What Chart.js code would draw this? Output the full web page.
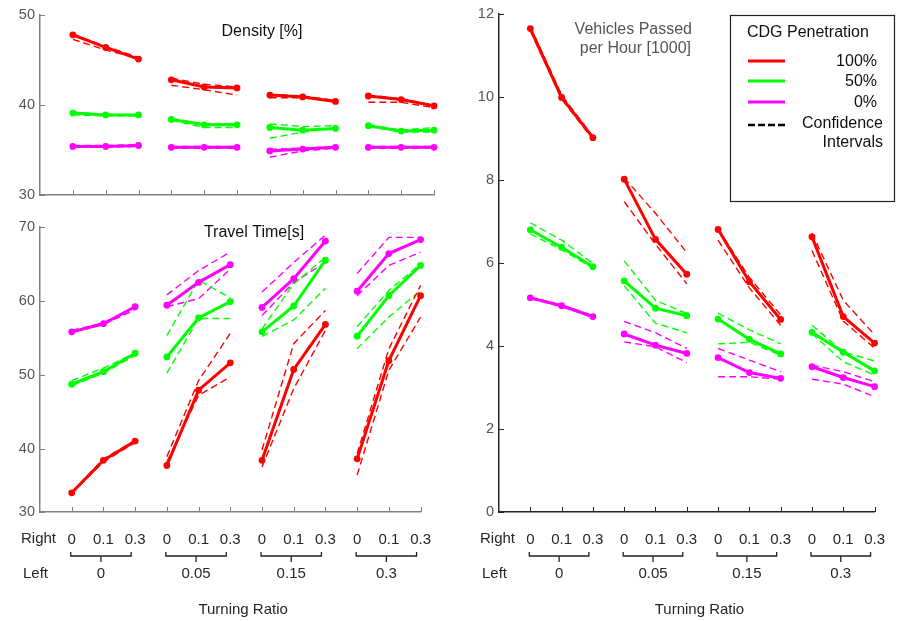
<!DOCTYPE html>
<html>
<head>
<meta charset="utf-8">
<script src="https://cdn.jsdelivr.net/npm/chart.js@4"></script>
<style>
  body { margin: 0; background: #fff; }
  canvas { position: absolute; }
</style>
</head>
<body>
<canvas id="density-chart" width="450" height="215" style="left:0;top:0"></canvas>
<canvas id="travel-chart" width="450" height="411" style="left:0;top:210px"></canvas>
<canvas id="vehicles-chart" width="454" height="621" style="left:450px;top:0"></canvas>
<script>
// categories
const rightRatios = ["0", "0.1", "0.3"];
const leftRatios = ["0", "0.05", "0.15", "0.3"];
const penetration = ["100%", "50%", "0%"];

// density [%]
const density100 = [47.8, 46.4, 45.1, 42.8, 42.0, 41.9, 41.1, 40.9, 40.4, 41.0, 40.6, 39.9];
const density100Hi = [47.9, 46.5, 45.3, 43.0, 42.3, 42.0, 41.2, 41.0, 40.5, 41.1, 40.7, 40.0];
const density100Lo = [47.3, 46.1, 45.2, 42.2, 41.7, 41.1, 40.8, 40.8, 40.4, 40.3, 40.3, 39.7];
const density50 = [39.1, 38.9, 38.9, 38.4, 37.8, 37.8, 37.5, 37.2, 37.4, 37.7, 37.1, 37.2];
const density50Hi = [39.2, 38.95, 38.9, 38.5, 37.9, 37.9, 37.9, 37.6, 37.7, 37.8, 37.2, 37.5];
const density50Lo = [38.9, 38.8, 38.8, 38.3, 37.5, 37.5, 36.3, 37.0, 37.4, 37.6, 37.0, 37.0];
const density0 = [35.4, 35.4, 35.5, 35.3, 35.3, 35.3, 34.9, 35.1, 35.3, 35.3, 35.3, 35.3];
const density0Hi = [35.5, 35.5, 35.6, 35.4, 35.4, 35.4, 35.1, 35.2, 35.4, 35.4, 35.4, 35.4];
const density0Lo = [35.3, 35.3, 35.4, 35.2, 35.2, 35.2, 34.2, 34.9, 35.2, 35.2, 35.2, 35.2];

// travel time [s]
const travel100 = [34.0, 38.4, 41.0, 37.7, 47.9, 51.6, 38.4, 50.7, 56.8, 38.6, 51.9, 60.7];
const travel100Hi = [34.1, 38.6, 41.1, 38.9, 49.2, 55.6, 39.8, 54.2, 58.7, 39.3, 53.5, 62.1];
const travel100Lo = [33.9, 38.2, 40.8, 38.2, 47.2, 49.7, 37.5, 48.1, 56.0, 36.4, 50.6, 57.8];
const travel50 = [48.7, 50.4, 52.9, 52.4, 57.7, 59.9, 55.8, 59.3, 65.5, 55.2, 60.7, 64.8];
const travel50Hi = [49.2, 50.9, 52.9, 55.3, 62.8, 60.4, 56.2, 62.3, 65.9, 56.5, 61.4, 65.0];
const travel50Lo = [48.5, 50.2, 52.6, 50.2, 57.6, 57.6, 55.2, 57.4, 61.7, 53.5, 57.8, 61.4];
const travel0 = [55.8, 56.9, 59.2, 59.4, 62.5, 64.9, 59.1, 63.0, 68.1, 61.3, 66.4, 68.3];
const travel0Hi = [56.0, 57.0, 59.3, 60.8, 64.1, 66.6, 61.2, 65.2, 68.9, 63.7, 68.6, 68.6];
const travel0Lo = [55.7, 56.8, 58.8, 59.2, 60.3, 64.3, 58.0, 62.5, 65.2, 60.7, 64.8, 66.6];

// vehicles passed per hour [1000]
const vehicles100 = [11.65, 9.99, 9.02, 8.02, 6.57, 5.73, 6.81, 5.55, 4.64, 6.63, 4.71, 4.07];
const vehicles100Hi = [11.7, 10.05, 9.05, 8.05, 7.2, 6.25, 6.82, 5.65, 4.75, 6.72, 5.1, 4.27];
const vehicles100Lo = [11.6, 9.95, 8.98, 7.48, 6.45, 5.5, 6.55, 5.4, 4.5, 6.3, 4.6, 3.95];
const vehicles50 = [6.80, 6.38, 5.91, 5.57, 4.91, 4.73, 4.65, 4.16, 3.81, 4.33, 3.85, 3.40];
const vehicles50Hi = [6.97, 6.55, 5.99, 6.05, 5.1, 4.78, 4.79, 4.39, 4.05, 4.5, 3.86, 3.64];
const vehicles50Lo = [6.7, 6.32, 5.88, 5.45, 4.55, 4.32, 4.05, 4.09, 3.78, 4.3, 3.62, 3.30];
const vehicles0 = [5.16, 4.97, 4.71, 4.29, 4.02, 3.82, 3.72, 3.36, 3.22, 3.50, 3.24, 3.02];
const vehicles0Hi = [5.18, 4.99, 4.73, 4.59, 4.32, 3.94, 3.94, 3.66, 3.38, 3.54, 3.38, 3.14];
const vehicles0Lo = [5.14, 4.95, 4.69, 4.10, 3.98, 3.60, 3.26, 3.26, 3.20, 3.20, 3.08, 2.78];

const colors = ["#ff0000", "#00ff00", "#ff00ff"];
const FONT = '"Liberation Sans", Arial, sans-serif';
Chart.defaults.font.family = FONT;

// one point per x position, a null between the Left-ratio groups breaks the line
function toPoints(values) {
    const pts = [];
    values.forEach((v, i) => {
        pts.push({ x: i + 1, y: v });
        if (i % 3 === 2 && i < values.length - 1) pts.push({ x: i + 1.5, y: null });
    });
    return pts;
}

function makeDatasets(series) {
    const solid = [];
    const dashed = [];
    series.forEach((s, k) => {
        solid.push({
            label: penetration[k],
            data: toPoints(s.mean),
            borderColor: colors[k],
            backgroundColor: colors[k],
            borderWidth: 3,
            pointRadius: 3.4,
            pointBorderWidth: 0,
            clip: false,
        });
        [s.hi, s.lo].forEach((ci) => {
            dashed.push({
                label: penetration[k] + " CI",
                data: toPoints(ci),
                borderColor: colors[k],
                borderWidth: 1.4,
                borderDash: [7, 4],
                pointRadius: 0,
                clip: false,
            });
        });
    });
    return solid.concat(dashed);
}

function txt(ctx, text, x, y, size, color, align) {
    ctx.font = size + "px " + FONT;
    ctx.fillStyle = color;
    ctx.textAlign = align || "center";
    ctx.textBaseline = "middle";
    ctx.fillText(text, x, y);
}

// ticks inside the axes, titles, the Right/Left labels and the legend
const figureText = {
    id: "figureText",
    afterDraw(chart, args, opts) {
        const ctx = chart.ctx;
        const xs = chart.scales.x;
        const ys = chart.scales.y;
        ctx.save();
        ctx.strokeStyle = opts.axisColor;
        ctx.lineWidth = 1;
        ctx.beginPath();
        for (let i = 1; i <= 12; i++) {
            const px = Math.round(xs.getPixelForValue(i)) + 0.5;
            ctx.moveTo(px, ys.bottom);
            ctx.lineTo(px, ys.bottom - 5);
        }
        ys.ticks.forEach((t) => {
            const py = Math.round(ys.getPixelForValue(t.value)) + 0.5;
            ctx.moveTo(xs.left, py);
            ctx.lineTo(xs.left + 5, py);
        });
        ctx.stroke();

        (opts.titles || []).forEach((t) => txt(ctx, t.text, t.x, t.y, 16, t.color, t.align));

        if (opts.bottom) {
            const base = xs.top;
            const left = xs.left;
            txt(ctx, "Right", left - 19, base + 27, 15, "#262626", "left");
            txt(ctx, "Left", left - 17, base + 62, 15, "#262626", "left");
            ctx.strokeStyle = "#222";
            ctx.lineWidth = 1.3;
            leftRatios.forEach((lab, g) => {
                const x1 = xs.getPixelForValue(g * 3 + 1) - 1;
                const x2 = xs.getPixelForValue(g * 3 + 3) - 4;
                const yb = base + 44;
                const mid = (x1 + x2) / 2;
                ctx.beginPath();
                ctx.moveTo(x1, yb - 4);
                ctx.lineTo(x1, yb);
                ctx.lineTo(x2, yb);
                ctx.lineTo(x2, yb - 4);
                ctx.moveTo(mid, yb);
                ctx.lineTo(mid, yb + 6);
                ctx.stroke();
                txt(ctx, lab, mid, base + 62, 15, "#262626");
            });
            const cx = (xs.getPixelForValue(1) + xs.getPixelForValue(12)) / 2 - 3;
            txt(ctx, "Turning Ratio", cx, base + 98, 15, "#262626");
        }

        if (opts.legend) {
            const L = opts.legend;
            ctx.strokeStyle = "#222";
            ctx.lineWidth = 1.2;
            ctx.strokeRect(L.x + 0.5, L.y + 0.5, 164, 186);
            txt(ctx, "CDG Penetration", L.x + 17, L.y + 18, 16, "#111", "left");
            const rows = [L.y + 46, L.y + 66, L.y + 87];
            penetration.forEach((p, k) => {
                ctx.strokeStyle = colors[k];
                ctx.lineWidth = 3;
                ctx.setLineDash([]);
                ctx.beginPath();
                ctx.moveTo(L.x + 18, rows[k]);
                ctx.lineTo(L.x + 55, rows[k]);
                ctx.stroke();
                txt(ctx, p, L.x + 147, rows[k] + 1, 16, "#111", "right");
            });
            ctx.strokeStyle = "#000";
            ctx.lineWidth = 2.5;
            ctx.setLineDash([7, 3]);
            ctx.beginPath();
            ctx.moveTo(L.x + 18, L.y + 110);
            ctx.lineTo(L.x + 55, L.y + 110);
            ctx.stroke();
            ctx.setLineDash([]);
            txt(ctx, "Confidence", L.x + 153, L.y + 109, 16, "#111", "right");
            txt(ctx, "Intervals", L.x + 153, L.y + 128, 16, "#111", "right");
        }
        ctx.restore();
    },
};

function makeChart(id, datasets, cfg) {
    return new Chart(document.getElementById(id), {
        type: "line",
        data: { datasets: datasets },
        options: {
            responsive: false,
            animation: false,
            devicePixelRatio: 1,
            layout: { padding: cfg.padding },
            plugins: {
                legend: { display: false },
                tooltip: { enabled: false },
                figureText: cfg.text,
            },
            scales: {
                x: {
                    type: "linear",
                    min: 0,
                    max: 12,
                    grid: { display: false, drawTicks: false, tickLength: 0 },
                    border: { color: cfg.axisColor, width: 1.5 },
                    ticks: {
                        display: cfg.xLabels,
                        stepSize: 1,
                        autoSkip: false,
                        maxRotation: 0,
                        padding: 19,
                        color: "#262626",
                        font: { size: 15 },
                        callback: (v) => (v >= 1 ? rightRatios[(v - 1) % 3] : ""),
                    },
                    afterFit: (s) => { s.height = cfg.xHeight; },
                },
                y: {
                    min: cfg.yMin,
                    max: cfg.yMax,
                    grid: { display: false, drawTicks: false, tickLength: 0 },
                    border: { color: cfg.axisColor, width: 1.5 },
                    ticks: {
                        stepSize: cfg.yStep,
                        padding: 5,
                        color: "#555",
                        font: { size: 14.5 },
                        callback: cfg.yLabel || ((v) => v),
                    },
                    afterBuildTicks: cfg.yTicks ? (s) => { s.ticks = cfg.yTicks.map((v) => ({ value: v })); } : undefined,
                    afterFit: (s) => { s.width = cfg.yWidth; },
                },
            },
        },
        plugins: [figureText],
    });
}

makeChart("density-chart", makeDatasets([
    { mean: density100, hi: density100Hi, lo: density100Lo },
    { mean: density50, hi: density50Hi, lo: density50Lo },
    { mean: density0, hi: density0Hi, lo: density0Lo },
]), {
    padding: { left: 0, top: 15, right: 16, bottom: 0 },
    axisColor: "#808080",
    xLabels: false,
    xHeight: 20,
    yWidth: 40,
    yMin: 30,
    yMax: 50,
    yStep: 10,
    text: {
        axisColor: "#808080",
        titles: [{ text: "Density [%]", x: 262, y: 32, color: "#111" }],
    },
});

// the bottom of this axis sits a little above 30 but is labelled 30
const travelMin = 31.4;
makeChart("travel-chart", makeDatasets([
    { mean: travel100, hi: travel100Hi, lo: travel100Lo },
    { mean: travel50, hi: travel50Hi, lo: travel50Lo },
    { mean: travel0, hi: travel0Hi, lo: travel0Lo },
]), {
    padding: { left: 0, top: 17, right: 16, bottom: 0 },
    axisColor: "#808080",
    xLabels: true,
    xHeight: 109,
    yWidth: 40,
    yMin: travelMin,
    yMax: 70,
    yTicks: [travelMin, 40, 50, 60, 70],
    yLabel: (v) => (v === travelMin ? "30" : v),
    text: {
        axisColor: "#808080",
        bottom: true,
        titles: [{ text: "Travel Time[s]", x: 254, y: 23, color: "#111" }],
    },
});

makeChart("vehicles-chart", makeDatasets([
    { mean: vehicles100, hi: vehicles100Hi, lo: vehicles100Lo },
    { mean: vehicles50, hi: vehicles50Hi, lo: vehicles50Lo },
    { mean: vehicles0, hi: vehicles0Hi, lo: vehicles0Lo },
]), {
    padding: { left: 0, top: 14, right: 15, bottom: 0 },
    axisColor: "#262626",
    xLabels: true,
    xHeight: 109,
    yWidth: 49,
    yMin: 0,
    yMax: 12,
    yStep: 2,
    text: {
        axisColor: "#262626",
        bottom: true,
        titles: [
            { text: "Vehicles Passed", x: 242, y: 30, color: "#555", align: "right" },
            { text: "per Hour [1000]", x: 241, y: 49, color: "#555", align: "right" },
        ],
        legend: { x: 280, y: 15 },
    },
});
</script>
</body>
</html>
